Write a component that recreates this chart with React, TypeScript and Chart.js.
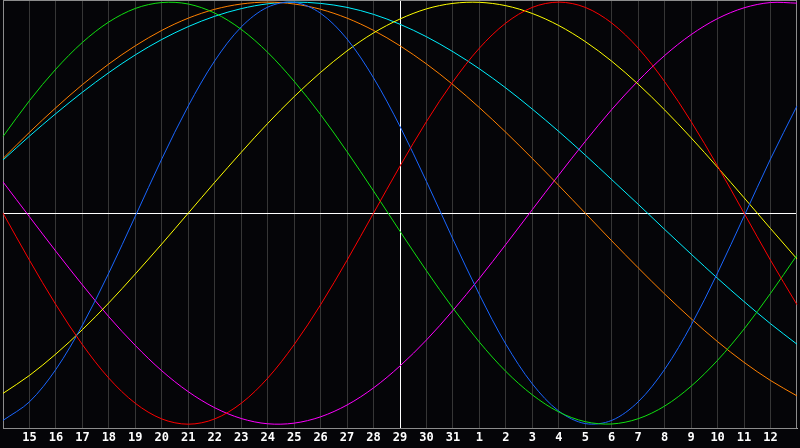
import React, { useEffect, useRef } from "react";
import { Chart, registerables, Plugin } from "chart.js";

Chart.register(...registerables);

const days = [
  "14", "15", "16", "17", "18", "19", "20", "21", "22", "23", "24", "25", "26", "27", "28", "29",
  "30", "31", "1", "2", "3", "4", "5", "6", "7", "8", "9", "10", "11", "12", "13",
];
const todayIndex = 15;

const red = [
  0, -0.223, -0.434, -0.623, -0.782, -0.901, -0.975, -1, -0.975, -0.901, -0.782, -0.623, -0.434, -0.223, 0, 0.223,
  0.434, 0.623, 0.782, 0.901, 0.975, 1, 0.975, 0.901, 0.782, 0.623, 0.434, 0.223, 0, -0.223, -0.434,
];
const green = [
  0.363, 0.533, 0.683, 0.809, 0.906, 0.97, 0.998, 0.991, 0.948, 0.871, 0.762, 0.625, 0.467, 0.291, 0.105, -0.086,
  -0.273, -0.45, -0.611, -0.75, -0.861, -0.942, -0.988, -0.999, -0.974, -0.914, -0.82, -0.697, -0.549, -0.38, -0.199,
];
const blue = [
  -0.982, -0.894, -0.74, -0.531, -0.283, -0.014, 0.257, 0.508, 0.722, 0.882, 0.976, 0.999, 0.947, 0.825, 0.641, 0.411,
  0.15, -0.123, -0.386, -0.621, -0.809, -0.938, -0.997, -0.982, -0.894, -0.74, -0.531, -0.283, -0.014, 0.257, 0.508,
];
const yellow = [
  -0.854, -0.769, -0.667, -0.552, -0.425, -0.288, -0.146, 0, 0.146, 0.288, 0.425, 0.552, 0.667, 0.769, 0.854, 0.92,
  0.968, 0.994, 0.999, 0.983, 0.946, 0.889, 0.813, 0.72, 0.611, 0.489, 0.357, 0.217, 0.073, -0.073, -0.217,
];
const orange = [
  0.259, 0.383, 0.5, 0.609, 0.707, 0.793, 0.866, 0.924, 0.966, 0.991, 1, 0.991, 0.966, 0.924, 0.866, 0.793,
  0.707, 0.609, 0.5, 0.383, 0.259, 0.131, 0, -0.131, -0.259, -0.383, -0.5, -0.609, -0.707, -0.793, -0.866,
];
const cyan = [
  0.252, 0.365, 0.472, 0.573, 0.666, 0.75, 0.823, 0.884, 0.933, 0.969, 0.992, 1, 0.994, 0.975, 0.942, 0.895,
  0.836, 0.765, 0.684, 0.593, 0.493, 0.387, 0.275, 0.159, 0.042, -0.077, -0.194, -0.309, -0.419, -0.524, -0.621,
];
const magenta = [
  0.148, -0.017, -0.181, -0.34, -0.491, -0.627, -0.747, -0.846, -0.922, -0.973, -0.998, -0.995, -0.965, -0.909, -0.828, -0.724,
  -0.601, -0.461, -0.309, -0.148, 0.017, 0.181, 0.34, 0.491, 0.627, 0.747, 0.846, 0.922, 0.973, 0.998, 0.995,
];

const series = [
  { data: red, color: "#ff0000" },
  { data: green, color: "#10e010" },
  { data: blue, color: "#1a66ff" },
  { data: yellow, color: "#ffff00" },
  { data: orange, color: "#ff8000" },
  { data: cyan, color: "#00f0ff" },
  { data: magenta, color: "#ff00ff" },
];

// frame, zero line and the "today" marker, under the curves
const framePlugin: Plugin = {
  id: "frame",
  beforeDatasetsDraw(chart) {
    const { ctx, chartArea, scales } = chart;
    const y0 = Math.round(scales.y.getPixelForValue(0)) + 0.5;
    const xt = Math.round(scales.x.getPixelForValue(todayIndex)) + 0.5;
    ctx.save();
    ctx.lineWidth = 1;
    ctx.strokeStyle = "#ffffff";
    ctx.beginPath();
    ctx.moveTo(chartArea.left, y0);
    ctx.lineTo(chartArea.right, y0);
    ctx.moveTo(xt, chartArea.top);
    ctx.lineTo(xt, chartArea.bottom);
    ctx.stroke();
    ctx.strokeStyle = "#8c8c8c";
    ctx.strokeRect(chartArea.left + 0.5, chartArea.top + 0.5, chartArea.right - chartArea.left - 1, chartArea.bottom - chartArea.top);
    ctx.restore();
  },
};

export default function App() {
  const ref = useRef<HTMLCanvasElement | null>(null);

  useEffect(() => {
    document.body.style.margin = "0";
    document.body.style.background = "#050508";
    const ctx = ref.current?.getContext("2d");
    if (!ctx) return;
    const chart = new Chart(ctx, {
      type: "line",
      data: {
        labels: days,
        datasets: series.map((s) => ({
          data: s.data,
          borderColor: s.color,
          borderWidth: 1,
          pointRadius: 0,
          tension: 0.33,
          fill: false,
        })),
      },
      options: {
        responsive: false,
        animation: false,
        layout: { padding: 0 },
        plugins: { legend: { display: false }, tooltip: { enabled: false } },
        scales: {
          x: {
            type: "category",
            offset: false,
            afterFit: (scale: any) => {
              scale.height = 20;
            },
            grid: {
              drawTicks: false,
              color: (c: any) => (c.index === 0 || c.index === days.length - 1 ? "rgba(0,0,0,0)" : "#363636"),
            },
            border: { display: true, color: "#a8a8a8" },
            ticks: {
              autoSkip: false,
              maxRotation: 0,
              padding: 3,
              color: "#ffffff",
              font: { family: "DejaVu Sans Mono", size: 12, weight: "bold" },
              callback: (_v: any, i: number) => (i === 0 || i === days.length - 1 ? "" : days[i]),
            },
          },
          y: {
            display: false,
            min: -1.018,
            max: 1.01,
          },
        },
      },
      plugins: [framePlugin],
    });
    return () => chart.destroy();
  }, []);

  return (
    <div style={{ width: 800, height: 448, background: "#050508" }}>
      <canvas ref={ref} width={800} height={448} />
    </div>
  );
}
